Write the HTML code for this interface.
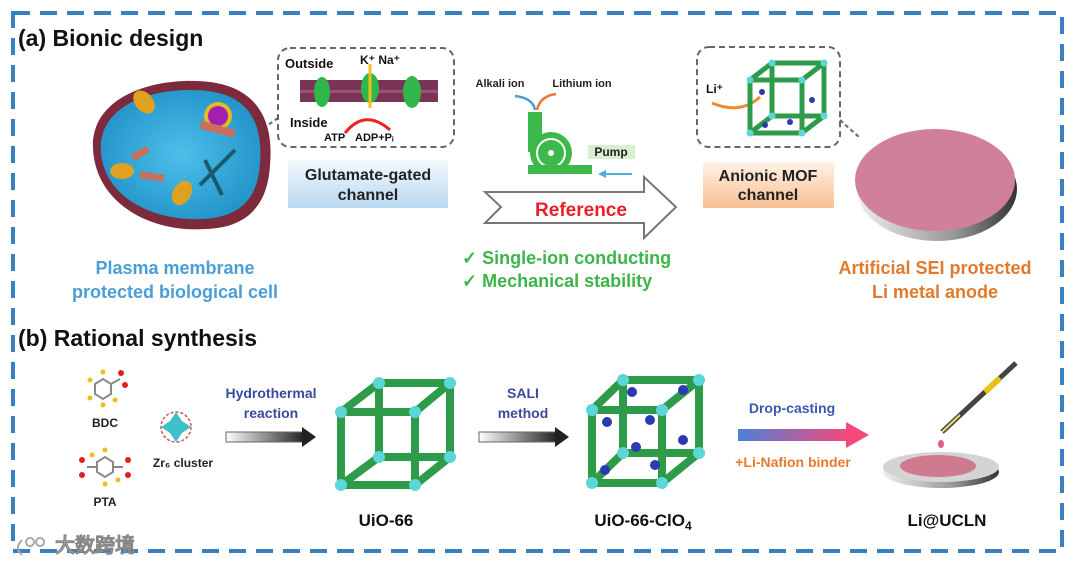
<!DOCTYPE html>
<html><head><meta charset="utf-8"><style>
html,body{margin:0;padding:0;background:#fff;}
svg{display:block;}
text{font-family:"Liberation Sans",Arial,sans-serif;font-weight:bold;}
</style></head><body>
<svg width="1080" height="563" viewBox="0 0 1080 563" xmlns="http://www.w3.org/2000/svg">
<defs>
<linearGradient id="gb" x1="0" y1="0" x2="0" y2="1"><stop offset="0" stop-color="#f3f8fd"/><stop offset="1" stop-color="#b9d8f0"/></linearGradient>
<linearGradient id="go" x1="0" y1="0" x2="0" y2="1"><stop offset="0" stop-color="#fff3e8"/><stop offset="1" stop-color="#f7bf90"/></linearGradient>
<linearGradient id="gk" x1="0" y1="0" x2="1" y2="0"><stop offset="0" stop-color="#fff"/><stop offset="1" stop-color="#222"/></linearGradient>
<linearGradient id="gp" x1="0" y1="0" x2="1" y2="0"><stop offset="0" stop-color="#4f7fd8"/><stop offset="1" stop-color="#f24a7a"/></linearGradient>
<linearGradient id="gs" x1="0" y1="0" x2="1" y2="0"><stop offset="0" stop-color="#eee"/><stop offset="0.6" stop-color="#999"/><stop offset="1" stop-color="#333"/></linearGradient>
<radialGradient id="gc" cx="0.5" cy="0.5" r="0.6"><stop offset="0" stop-color="#4cc0ea"/><stop offset="1" stop-color="#1f8fc6"/></radialGradient>
</defs>
<rect x="13" y="13" width="1049" height="538" fill="none" stroke="#3a80c0" stroke-width="4" stroke-dasharray="17 10"/>

<text x="18" y="46" font-size="23" fill="#111">(a) Bionic design</text>

<!-- cell -->
<path d="M93,140 C98,93 160,76 210,82 C257,88 274,120 270,165 C268,202 250,228 205,229 C150,233 90,202 93,140 Z" fill="#7c2a3c"/>
<path d="M101,142 C106,100 162,86 208,91 C250,96 263,125 260,163 C258,197 242,217 203,219 C152,222 97,195 101,142 Z" fill="url(#gc)"/>
<circle cx="218" cy="116" r="14" fill="#e8b820"/><circle cx="218" cy="116" r="10" fill="#a21fb0"/>
<rect x="200" y="125" width="35" height="8" fill="#c9705a" transform="rotate(15 217 129)"/>
<ellipse cx="144" cy="102" rx="9" ry="13" fill="#e0a020" transform="rotate(-40 144 102)"/>
<ellipse cx="122" cy="171" rx="12" ry="8" fill="#e0a020"/>
<ellipse cx="182" cy="193" rx="9" ry="13" fill="#e0a020" transform="rotate(30 182 193)"/>
<rect x="131" y="150" width="18" height="7" fill="#c9705a" transform="rotate(-30 140 153)"/>
<rect x="140" y="173" width="24" height="7" fill="#c9705a" transform="rotate(8 152 176)"/>
<path d="M200,185 L235,150 M205,160 L222,195" stroke="#1b5a6a" stroke-width="4"/>

<rect x="278" y="48" width="176" height="99" rx="12" fill="#fff" stroke="#666" stroke-width="2" stroke-dasharray="6 4"/>
<path d="M278,118 L268,125" stroke="#666" stroke-width="2" stroke-dasharray="4 3"/>
<rect x="300" y="80" width="138" height="22" fill="#7a3556"/>
<rect x="300" y="90" width="138" height="3" fill="#a05078"/>
<ellipse cx="322" cy="92" rx="8" ry="15" fill="#2eb84a"/>
<ellipse cx="370" cy="88" rx="9" ry="15" fill="#2eb84a"/>
<ellipse cx="412" cy="92" rx="9" ry="16" fill="#2eb84a"/>
<line x1="370" y1="64" x2="370" y2="108" stroke="#f0c020" stroke-width="3"/>
<text x="285" y="68" font-size="13" fill="#111">Outside</text>
<text x="360" y="64" font-size="12" fill="#111">K⁺ Na⁺</text>
<text x="290" y="127" font-size="13" fill="#111">Inside</text>
<text x="324" y="141" font-size="11" fill="#111">ATP</text>
<text x="355" y="141" font-size="11" fill="#111">ADP+Pᵢ</text>
<path d="M345,133 Q365,108 390,130" fill="none" stroke="#e22" stroke-width="3"/>

<rect x="288" y="160" width="160" height="48" fill="url(#gb)"/>
<text x="368" y="180" font-size="16" fill="#222" text-anchor="middle">Glutamate-gated</text>
<text x="368" y="200" font-size="16" fill="#222" text-anchor="middle">channel</text>

<text x="175" y="274" font-size="18" fill="#4a9ed6" text-anchor="middle">Plasma membrane</text>
<text x="175" y="298" font-size="18" fill="#4a9ed6" text-anchor="middle">protected biological cell</text>

<text x="500" y="87" font-size="11" fill="#222" text-anchor="middle">Alkali ion</text>
<text x="582" y="87" font-size="11" fill="#222" text-anchor="middle">Lithium ion</text>
<path d="M535,110 Q533,98 515,96" fill="none" stroke="#4a9ed6" stroke-width="2.5"/>
<path d="M537,110 Q540,96 556,94" fill="none" stroke="#e8782c" stroke-width="2.5"/>
<rect x="528" y="112" width="14" height="40" fill="#3cb94a"/>
<circle cx="551" cy="153" r="21" fill="#3cb94a"/>
<circle cx="551" cy="153" r="14" fill="none" stroke="#fff" stroke-width="2"/>
<circle cx="551" cy="153" r="3" fill="#fff"/>
<rect x="528" y="165" width="64" height="9" fill="#3cb94a"/>
<rect x="588" y="145" width="47" height="14" fill="#d9efcf"/>
<text x="611" y="156" font-size="12" fill="#222" text-anchor="middle">Pump</text>
<path d="M632,174 L600,174" stroke="#4aaee0" stroke-width="2"/><path d="M598,174 L606,170 L606,178 Z" fill="#4aaee0"/>

<path d="M485,192 L644,192 L644,177 L676,207 L644,238 L644,223 L485,223 L501,207 Z" fill="#fff" stroke="#777" stroke-width="2"/>
<text x="581" y="216" font-size="19" fill="#e8202a" text-anchor="middle">Reference</text>

<text x="462" y="264" font-size="18" fill="#3db54a">✓ Single-ion conducting</text>
<text x="462" y="287" font-size="18" fill="#3db54a">✓ Mechanical stability</text>

<rect x="697" y="47" width="143" height="100" rx="12" fill="#fff" stroke="#666" stroke-width="2" stroke-dasharray="6 4"/>
<path d="M840,120 L860,138" stroke="#666" stroke-width="2" stroke-dasharray="4 3"/>
<text x="706" y="93" font-size="12" fill="#111">Li⁺</text>
<path d="M712,103 Q740,115 760,97" fill="none" stroke="#f08a30" stroke-width="3"/>
<g stroke="#2e9b4a" stroke-width="5" fill="none">
<rect x="750" y="80" width="52" height="53"/><rect x="772" y="63" width="52" height="53"/>
<path d="M750,80 L772,63 M802,80 L824,63 M750,133 L772,116 M802,133 L824,116"/></g>
<g fill="#2a3ab0"><circle cx="762" cy="92" r="3"/><circle cx="790" cy="122" r="3"/><circle cx="812" cy="100" r="3"/><circle cx="765" cy="125" r="3"/></g>
<g fill="#5cd6d6"><circle cx="750" cy="80" r="3.5"/><circle cx="802" cy="80" r="3.5"/><circle cx="750" cy="133" r="3.5"/><circle cx="802" cy="133" r="3.5"/><circle cx="772" cy="63" r="3.5"/><circle cx="824" cy="63" r="3.5"/><circle cx="772" cy="116" r="3.5"/><circle cx="824" cy="116" r="3.5"/></g>

<rect x="703" y="162" width="131" height="46" fill="url(#go)"/>
<text x="768" y="181" font-size="16" fill="#222" text-anchor="middle">Anionic MOF</text>
<text x="768" y="200" font-size="16" fill="#222" text-anchor="middle">channel</text>

<ellipse cx="937" cy="189" rx="80" ry="52" fill="url(#gs)"/>
<ellipse cx="935" cy="180" rx="80" ry="51" fill="#d0809a"/>
<text x="935" y="274" font-size="18" fill="#e07a2c" text-anchor="middle">Artificial SEI protected</text>
<text x="935" y="298" font-size="18" fill="#e07a2c" text-anchor="middle">Li metal anode</text>

<text x="18" y="346" font-size="23" fill="#111">(b) Rational synthesis</text>

<g stroke="#888" stroke-width="2" fill="none"><polygon points="95,384 103,379 111,384 111,394 103,399 95,394"/><polygon points="97,462 105,457 113,462 113,472 105,477 97,472"/><path d="M111,384 L120,379 M113,467 L123,467 M97,467 L87,467"/></g>
<g fill="#e8c020"><circle cx="103" cy="372" r="2.5"/><circle cx="90" cy="380" r="2.5"/><circle cx="90" cy="398" r="2.5"/><circle cx="103" cy="405" r="2.5"/><circle cx="115" cy="400" r="2.5"/><circle cx="105" cy="450" r="2.5"/><circle cx="105" cy="484" r="2.5"/><circle cx="92" cy="455" r="2.5"/><circle cx="118" cy="480" r="2.5"/></g>
<g fill="#e02020"><circle cx="121" cy="373" r="3"/><circle cx="125" cy="385" r="3"/><circle cx="82" cy="460" r="3"/><circle cx="82" cy="475" r="3"/><circle cx="128" cy="460" r="3"/><circle cx="128" cy="475" r="3"/></g>
<text x="105" y="427" font-size="12" fill="#222" text-anchor="middle">BDC</text>
<text x="105" y="506" font-size="12" fill="#222" text-anchor="middle">PTA</text>
<circle cx="176" cy="427" r="15" fill="none" stroke="#d05060" stroke-width="1.5" stroke-dasharray="3 2"/>
<path d="M176,412 L182,421 L191,427 L182,433 L176,442 L170,433 L161,427 L170,421 Z" fill="#40c0c8"/>
<text x="183" y="467" font-size="12" fill="#222" text-anchor="middle">Zr₆ cluster</text>

<text x="271" y="398" font-size="14" fill="#3a4aa0" text-anchor="middle">Hydrothermal</text>
<text x="271" y="418" font-size="14" fill="#3a4aa0" text-anchor="middle">reaction</text>
<rect x="226" y="432" width="78" height="10" fill="url(#gk)" stroke="#666" stroke-width="1"/>
<path d="M302,427 L316,437 L302,447 Z" fill="#222"/>

<g stroke="#2e9b4a" stroke-width="8" fill="none" stroke-linejoin="round">
<rect x="379" y="383" width="71" height="74"/><rect x="341" y="412" width="74" height="73"/>
<path d="M341,412 L379,383 M415,412 L450,383 M341,485 L379,457 M415,485 L450,457"/></g>
<g fill="#5cd6d6"><circle cx="341" cy="412" r="6"/><circle cx="415" cy="412" r="6"/><circle cx="341" cy="485" r="6"/><circle cx="415" cy="485" r="6"/><circle cx="379" cy="383" r="6"/><circle cx="450" cy="383" r="6"/><circle cx="379" cy="457" r="6"/><circle cx="450" cy="457" r="6"/></g>
<text x="386" y="526" font-size="17" fill="#111" text-anchor="middle">UiO-66</text>

<text x="523" y="398" font-size="14" fill="#3a4aa0" text-anchor="middle">SALI</text>
<text x="523" y="418" font-size="14" fill="#3a4aa0" text-anchor="middle">method</text>
<rect x="479" y="432" width="78" height="10" fill="url(#gk)" stroke="#666" stroke-width="1"/>
<path d="M555,427 L569,437 L555,447 Z" fill="#222"/>

<g stroke="#2e9b4a" stroke-width="8" fill="none" stroke-linejoin="round">
<rect x="623" y="380" width="76" height="73"/><rect x="592" y="410" width="70" height="73"/>
<path d="M592,410 L623,380 M662,410 L699,380 M592,483 L623,453 M662,483 L699,453"/></g>
<g fill="#2a3ab0"><circle cx="632" cy="392" r="5"/><circle cx="607" cy="422" r="5"/><circle cx="650" cy="420" r="5"/><circle cx="636" cy="447" r="5"/><circle cx="683" cy="440" r="5"/><circle cx="655" cy="465" r="5"/><circle cx="605" cy="470" r="5"/><circle cx="683" cy="390" r="5"/></g>
<g fill="#5cd6d6"><circle cx="592" cy="410" r="6"/><circle cx="662" cy="410" r="6"/><circle cx="592" cy="483" r="6"/><circle cx="662" cy="483" r="6"/><circle cx="623" cy="380" r="6"/><circle cx="699" cy="380" r="6"/><circle cx="623" cy="453" r="6"/><circle cx="699" cy="453" r="6"/></g>
<text x="643" y="526" font-size="17" fill="#111" text-anchor="middle">UiO-66-ClO<tspan font-size="12" dy="4">4</tspan></text>

<text x="792" y="413" font-size="14" fill="#3a5ab0" text-anchor="middle">Drop-casting</text>
<rect x="738" y="429" width="110" height="12" fill="url(#gp)"/>
<path d="M846,422 L869,435 L846,448 Z" fill="#f24a7a"/>
<text x="793" y="467" font-size="14" fill="#e87a2c" text-anchor="middle">+Li-Nafion binder</text>

<ellipse cx="941" cy="472" rx="58" ry="16" fill="url(#gs)"/>
<ellipse cx="941" cy="467" rx="58" ry="15" fill="#d4d4d4"/>
<ellipse cx="938" cy="466" rx="38" ry="11" fill="#d07a90"/>
<line x1="1016" y1="363" x2="942" y2="432" stroke="#444" stroke-width="5"/>
<line x1="1000" y1="378" x2="985" y2="392" stroke="#e8c020" stroke-width="6"/>
<line x1="960" y1="415" x2="942" y2="432" stroke="#e8e070" stroke-width="2"/>
<ellipse cx="941" cy="444" rx="3" ry="4" fill="#e06080"/>
<text x="947" y="526" font-size="17" fill="#111" text-anchor="middle">Li@UCLN</text>

<text x="55" y="552" font-size="20" fill="#c8c8c8" font-family="'Liberation Sans','Noto Sans CJK SC',sans-serif" stroke="#888" stroke-width="0.6">大数跨境</text>
<path d="M22,540 Q14,548 22,555 M30,538 a4,4 0 1,0 0.1,0 M40,538 a4,4 0 1,0 0.1,0" fill="none" stroke="#aaa" stroke-width="2"/>
</svg>
</body></html>
